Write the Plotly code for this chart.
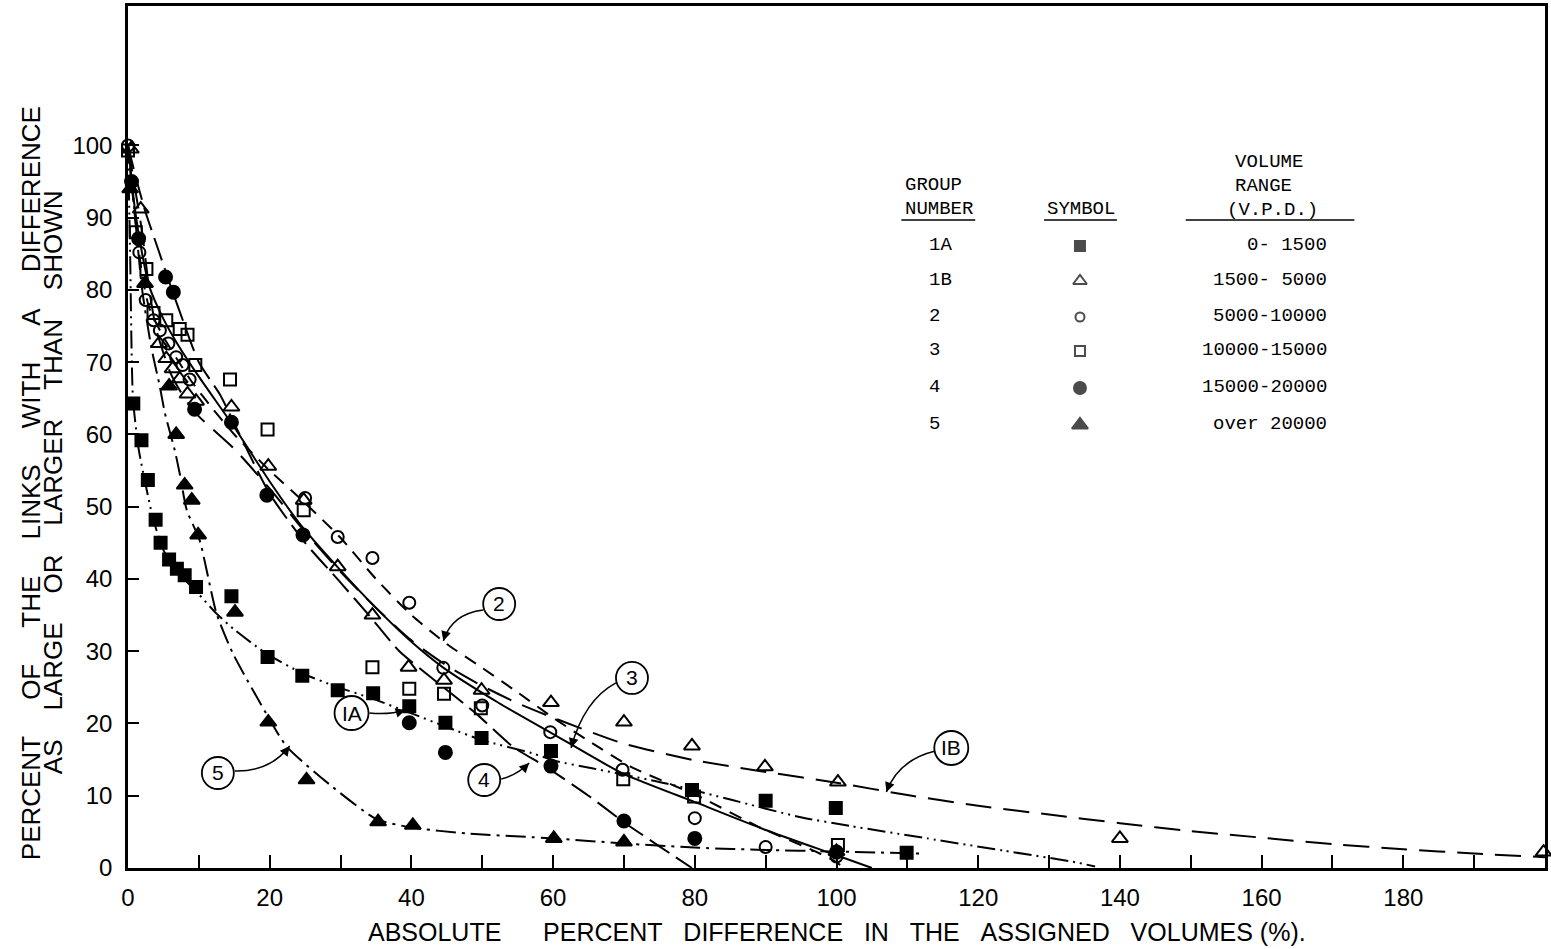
import plotly.graph_objects as go

# ---------------- data ----------------
g1A_x = [0.75, 1.9, 2.8, 3.9, 4.6, 5.8, 6.9, 8.0, 9.6, 14.6, 19.7, 24.6, 29.6, 34.6, 39.7, 44.8, 49.9, 59.7, 79.6, 90, 99.9, 109.9]
g1A_y = [64.3, 59.2, 53.7, 48.2, 45.0, 42.7, 41.4, 40.5, 38.9, 37.6, 29.2, 26.6, 24.6, 24.2, 22.4, 20.1, 18.0, 16.2, 10.8, 9.3, 8.3, 2.1]

g1B_x = [0.4, 1.8, 4.4, 5.4, 6.3, 7.3, 8.4, 9.6, 14.6, 19.8, 24.8, 29.6, 34.5, 39.6, 44.6, 49.9, 59.7, 70, 79.6, 89.9, 100.2, 140, 199.8]
g1B_y = [99.5, 91.2, 72.6, 70.5, 69.1, 67.7, 65.6, 64.6, 63.8, 55.6, 50.9, 41.7, 35.0, 27.8, 26.0, 24.6, 22.9, 20.2, 16.9, 14.0, 11.9, 4.1, 2.2]

g2_x = [0.0, 1.6, 2.5, 3.6, 4.5, 5.7, 6.8, 7.7, 8.7, 25.0, 29.6, 34.5, 39.7, 44.5, 50.0, 59.6, 69.8, 80.0, 90.0, 100.0]
g2_y = [100, 85.2, 78.6, 75.8, 74.4, 72.6, 70.7, 69.6, 67.6, 51.2, 45.8, 42.9, 36.7, 27.7, 22.5, 18.8, 13.6, 6.9, 2.9, 1.6]

g3_x = [0.0, 1.1, 2.6, 3.6, 5.4, 7.3, 8.4, 9.5, 14.4, 19.7, 24.8, 34.5, 39.7, 44.6, 49.8, 69.9, 79.9, 100.2]
g3_y = [99.3, 88.0, 82.9, 76.8, 75.8, 74.6, 73.8, 69.6, 67.6, 60.7, 49.5, 27.8, 24.8, 24.1, 22.1, 12.3, 9.9, 3.2]

g4_x = [0.5, 1.5, 5.3, 6.4, 9.4, 14.6, 19.6, 24.7, 39.7, 44.8, 59.7, 70.0, 80.0, 100.0]
g4_y = [95.0, 87.1, 81.8, 79.7, 63.5, 61.7, 51.6, 46.1, 20.1, 16.0, 14.1, 6.5, 4.1, 2.2]

g5_x = [0.3, 2.4, 5.8, 6.8, 8.0, 9.0, 9.9, 15.1, 19.8, 25.2, 35.3, 40.2, 60.1, 70.0, 100.0]
g5_y = [94.0, 80.9, 66.7, 60.0, 53.0, 50.9, 46.1, 35.4, 20.2, 12.2, 6.4, 5.9, 4.1, 3.6, 2.3]

# fitted curves
c1A_x = [0, 0.3, 0.7, 1.5, 2.5, 3.5, 5, 7, 9.7, 12.5, 15, 19.5, 24.7, 29.4, 34.6, 40, 45, 50, 57, 60.4, 65.5, 76, 85.3, 94.6, 102, 112.8, 123.6, 133.7, 136.5]
c1A_y = [100, 85, 65, 58, 53, 48.5, 44, 41, 38.2, 35.2, 33, 29.7, 26.9, 25.1, 23.4, 21.4, 19.5, 17.7, 15.9, 14.8, 13.8, 11.7, 9.4, 7.1, 5.8, 4.1, 2.4, 0.8, 0.2]

c1B_x = [0, 1, 2, 3, 4, 6, 8, 10, 15, 20, 25, 30, 35, 40, 45, 50, 55, 60, 70, 80, 90, 100, 110, 120, 130, 140, 150, 160, 170, 180, 190, 200]
c1B_y = [100, 94, 88, 80, 74.5, 68.5, 65, 62.5, 58, 52.5, 46.5, 41, 36, 31.5, 28, 25.2, 22.8, 20.8, 17.2, 14.9, 13.3, 11.8, 10.1, 8.6, 7.4, 6.2, 5.1, 4.2, 3.3, 2.6, 2.0, 1.5]

c2_x = [0, 1, 2, 3, 5, 7, 9, 12, 15, 20, 25, 30, 35, 40, 45, 50, 55, 60, 65, 71, 80.6, 89, 97, 100, 101]
c2_y = [100, 90, 82, 77.5, 73.5, 70.3, 67.3, 63.5, 60, 55, 50.5, 45.7, 40, 35, 31, 27.7, 24.3, 20.8, 17.6, 14, 9.9, 5.7, 2.3, 0.8, 0]

c3_x = [0, 1, 2, 3, 5, 7, 10, 15, 20, 24.2, 30, 35, 40, 44.4, 52.4, 59.9, 69.8, 80.6, 89.9, 99.3, 105]
c3_y = [100, 91, 85, 80.5, 76, 72.5, 68, 61, 53.5, 47.7, 41.2, 36, 31.3, 27.8, 22.8, 18.6, 13.1, 8.9, 5.3, 2.0, 0]

c4_x = [0, 1, 2.4, 4.3, 5.5, 7.3, 10, 13, 15, 20, 25, 30, 34, 38.3, 43, 49.1, 54.3, 59, 65, 70.2, 75, 79.6]
c4_y = [100, 96, 91, 85.5, 82, 77, 70, 65.5, 61.5, 51.8, 45, 39.5, 35, 30, 26.2, 21.4, 16.8, 14, 10, 6.2, 3, 0]

c5_x = [0, 1, 2, 3.3, 4.5, 5.2, 6.6, 7.3, 8.3, 10.1, 12.5, 14.8, 19.5, 22.4, 28.9, 35, 40, 47.7, 60, 70, 80.6, 90, 99.3, 112]
c5_y = [100, 90, 80, 72, 66.6, 63, 57.8, 54.6, 49.5, 45.4, 35.2, 29.7, 21.4, 16.8, 11.2, 6.8, 5.6, 4.8, 4.1, 3.4, 2.8, 2.5, 2.3, 2.0]

# legend table text
group_names = ["1A", "1B", "2", "3", "4", "5"]
volume_ranges = ["0- 1500", "1500- 5000", "5000-10000", "10000-15000", "15000-20000", "over 20000"]

x_tick_vals = list(range(0, 200, 10))
x_tick_text = [str(v) if v % 20 == 0 else "" for v in x_tick_vals]
y_tick_vals = list(range(0, 101, 10))

# ---------------- figure ----------------
NB = "\u00a0"
SANS = "Liberation Sans"
MONO = "Liberation Mono"

# plot-area geometry in page pixels
L_PX, R_PX, T_PX, B_PX = 128, 1548, 6, 868
def px(xp):
    return (xp - L_PX) / (R_PX - L_PX)
def py(yp):
    return (B_PX - yp) / (B_PX - T_PX)

fig = go.Figure()

curves = [
    (c1A_x, c1A_y, "18px,5px,2px,5px,2px,5px"),
    (c1B_x, c1B_y, "26px,12px"),
    (c2_x, c2_y, "13px,9px"),
    (c3_x, c3_y, "solid"),
    (c4_x, c4_y, "24px,8px"),
    (c5_x, c5_y, "20px,6px,3px,6px"),
]
for cx, cy, dash in curves:
    fig.add_trace(go.Scatter(x=cx, y=cy, mode="lines",
                             line=dict(color="black", width=2, dash=dash, shape="spline", smoothing=0.6),
                             showlegend=False, hoverinfo="skip", cliponaxis=True))

groups = [
    (g1A_x, g1A_y, "square", 12),
    (g1B_x, g1B_y, "triangle-up-open", 14),
    (g2_x, g2_y, "circle-open", 12),
    (g3_x, g3_y, "square-open", 12),
    (g4_x, g4_y, "circle", 13),
    (g5_x, g5_y, "triangle-up", 14),
]
for gx, gy, sym, sz in groups:
    fig.add_trace(go.Scatter(x=gx, y=gy, mode="markers",
                             marker=dict(symbol=sym, size=sz, color="black",
                                         line=dict(color="black", width=2)),
                             showlegend=False, cliponaxis=False))

# legend symbols (pixel-space overlay axes)
leg_rows_y = [246, 281, 317, 351, 388, 425]
fig.add_trace(go.Scatter(x=[1082] * 6, y=leg_rows_y, mode="markers", xaxis="x2", yaxis="y2",
                         marker=dict(symbol=[g[2] for g in groups], size=[10, 12, 9, 10, 12, 14], color="black",
                                     line=dict(color="black", width=2)),
                         showlegend=False, cliponaxis=False))

ann = []
def txt(x, y, s, size=19, font=MONO, xanchor="center", angle=0):
    ann.append(dict(x=px(x), y=py(y), xref="paper", yref="paper", text=s, showarrow=False,
                    xanchor=xanchor, yanchor="middle", textangle=angle,
                    font=dict(family=font, size=size, color="black")))

txt(905, 185, "GROUP", xanchor="left")
txt(905, 209, "NUMBER", xanchor="left")
txt(1047, 209, "SYMBOL", xanchor="left")
txt(1235, 162, "VOLUME", xanchor="left")
txt(1235, 186, "RANGE", xanchor="left")
txt(1227, 210, "(V.P.D.)", xanchor="left")
for i, (g, r) in enumerate(zip(group_names, volume_ranges)):
    txt(929, leg_rows_y[i] - 1, g, xanchor="left")
    txt(1332, leg_rows_y[i] - 1, r.replace(" ", NB), xanchor="right")

shapes = []
for x0, x1 in [(903, 977), (1046, 1119), (1188, 1357)]:
    shapes.append(dict(type="line", xref="x2", yref="y2", x0=x0, x1=x1, y0=220, y1=220,
                       line=dict(color="black", width=1.5)))

# axis titles
gap = NB * 5
txt(31, 483, gap.join(["PERCENT", "OF", "THE", "LINKS", "WITH", "A", "DIFFERENCE"]), size=26, font=SANS, angle=-90)
gap2 = NB * 4
txt(53, 482, gap2.join(["AS", "LARGE", "OR", "LARGER", "THAN", "SHOWN"]), size=26, font=SANS, angle=-90)
xt = ("ABSOLUTE" + NB * 6 + "PERCENT" + NB * 3 + "DIFFERENCE" + NB * 3 + "IN" + NB * 3 + "THE" +
      NB * 3 + "ASSIGNED" + NB * 3 + "VOLUMES" + NB + "(%).")
txt(839, 932, xt, size=25, font=SANS)

# circled curve labels with curved arrows (data coordinates)
labels = [
    # text, center, start, control, end
    ("2", (52.39, 36.54), (50.14, 35.71), (45.63, 35.16), (44.51, 31.42)),
    ("3", (71.13, 26.30), (68.87, 25.61), (64.37, 23.25), (62.54, 16.61)),
    ("IA", (31.55, 21.45), (34.08, 21.45), (36.9, 21.18), (39.15, 21.87)),
    ("4", (50.28, 12.18), (52.68, 12.32), (54.93, 12.87), (56.62, 14.53)),
    ("5", (12.68, 13.15), (15.07, 13.43), (20.0, 13.29), (22.82, 16.89)),
    ("IB", (116.2, 16.61), (113.94, 16.19), (108.73, 14.95), (107.04, 10.52)),
]
XS, YS = 7.1, 7.225
for t, c, s, q, e in labels:
    r = 17 if len(t) > 1 else 16
    shapes.append(dict(type="circle", xref="x", yref="y", xsizemode="pixel", ysizemode="pixel",
                       xanchor=c[0], yanchor=c[1], x0=-r, x1=r, y0=-r, y1=r,
                       line=dict(color="black", width=1.8), fillcolor="white"))
    ann.append(dict(x=c[0], y=c[1], xref="x", yref="y", text=t, showarrow=False,
                    font=dict(family=SANS, size=21, color="black")))
    shapes.append(dict(type="path", xref="x", yref="y",
                       path=f"M {s[0]},{s[1]} Q {q[0]},{q[1]} {e[0]},{e[1]}",
                       line=dict(color="black", width=1.5)))
    dx = (q[0] - e[0]) * XS
    dy = -(q[1] - e[1]) * YS
    Ln = (dx ** 2 + dy ** 2) ** 0.5
    ann.append(dict(x=e[0], y=e[1], xref="x", yref="y", ax=dx / Ln * 9, ay=dy / Ln * 9,
                    axref="pixel", ayref="pixel", text="", showarrow=True,
                    arrowhead=2, arrowsize=1.3, arrowwidth=1.5, arrowcolor="black", standoff=0))

fig.update_layout(
    width=1551, height=949,
    margin=dict(l=L_PX, r=1551 - R_PX, t=T_PX, b=949 - B_PX),
    paper_bgcolor="white", plot_bgcolor="white",
    showlegend=False,
    xaxis=dict(range=[0, 200], tickmode="array", tickvals=x_tick_vals, ticktext=x_tick_text,
               ticks="inside", ticklen=13, tickwidth=2, tickcolor="black",
               showline=True, linewidth=2.5, linecolor="black", mirror=True,
               showgrid=False, zeroline=False, ticklabelstandoff=6,
               tickfont=dict(family=SANS, size=24, color="black")),
    yaxis=dict(range=[0, 119.3], tickmode="array", tickvals=y_tick_vals,
               ticks="inside", ticklen=11, tickwidth=2, tickcolor="black",
               showline=True, linewidth=2.5, linecolor="black", mirror=True,
               showgrid=False, zeroline=False, ticklabelstandoff=8,
               tickfont=dict(family=SANS, size=24, color="black")),
    xaxis2=dict(range=[L_PX, R_PX], overlaying="x", visible=False, anchor="y2"),
    yaxis2=dict(range=[B_PX, T_PX], overlaying="y", visible=False, anchor="x2"),
    annotations=ann,
    shapes=shapes,
)

fig.write_html("out.html", config={"displayModeBar": False},
               post_script="document.body.style.margin='0px';")
